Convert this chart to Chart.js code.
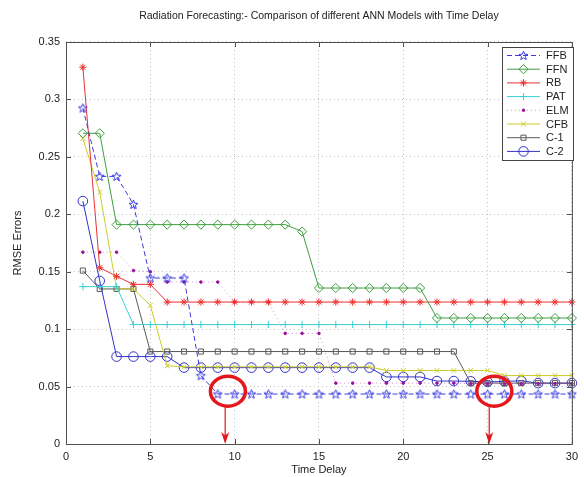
<!DOCTYPE html>
<html>
<head>
<meta charset="utf-8">
<script src="https://cdn.jsdelivr.net/npm/chart.js@4.4.0/dist/chart.umd.min.js"></script>
<style>
html, body { margin: 0; padding: 0; background: #fff; }
canvas { display: block; }
</style>
</head>
<body>
<canvas id="rmse" width="584" height="477"></canvas>
<script>
// time delay steps 1..30
const timeDelay = [1,2,3,4,5,6,7,8,9,10,11,12,13,14,15,16,17,18,19,20,21,22,23,24,25,26,27,28,29,30];

const ffb = [0.2925,0.233,0.233,0.2086,0.1445,0.1445,0.1445,0.0595,0.0435,0.0435,0.0435,0.0435,0.0435,0.0435,0.0435,
             0.0435,0.0435,0.0435,0.0435,0.0435,0.0435,0.0435,0.0435,0.0435,0.0435,0.0435,0.0435,0.0435,0.0435,0.0435];
const ffn = [0.2705,0.2705,0.191,0.191,0.191,0.191,0.191,0.191,0.191,0.191,0.191,0.191,0.191,0.185,0.1358,
             0.1358,0.1358,0.1358,0.1358,0.1358,0.1358,0.1097,0.1097,0.1097,0.1097,0.1097,0.1097,0.1097,0.1097,0.1097];
const rb  = [0.328,0.1535,0.146,0.139,0.139,0.1236,0.1236,0.1236,0.1236,0.1236,0.1236,0.1236,0.1236,0.1236,0.1236,
             0.1236,0.1236,0.1236,0.1236,0.1236,0.1236,0.1236,0.1236,0.1236,0.1236,0.1236,0.1236,0.1236,0.1236,0.1236];
const pat = [0.137,0.137,0.137,0.104,0.104,0.104,0.104,0.104,0.104,0.104,0.104,0.104,0.104,0.104,0.104,
             0.104,0.104,0.104,0.104,0.104,0.104,0.104,0.104,0.104,0.104,0.104,0.104,0.104,0.104,0.104];
const elm = [0.167,0.167,0.167,0.151,0.150,0.141,0.141,0.141,0.141,0.1236,0.1236,0.1236,0.0963,0.0963,0.0963,
             0.053,0.053,0.053,0.053,0.053,0.053,0.053,0.053,0.0525,0.0525,0.0525,0.0525,0.0525,0.0525,0.0525];
const cfb = [0.266,0.2193,0.135,0.135,0.1207,0.0681,0.0672,0.0672,0.0672,0.0672,0.0672,0.0672,0.0672,0.0672,0.0672,
             0.0672,0.0672,0.0672,0.064,0.064,0.064,0.064,0.064,0.064,0.064,0.0596,0.0596,0.0596,0.0596,0.0596];
const c1  = [0.151,0.135,0.135,0.135,0.0805,0.0805,0.0805,0.0805,0.0805,0.0805,0.0805,0.0805,0.0805,0.0805,0.0805,
             0.0805,0.0805,0.0805,0.0805,0.0805,0.0805,0.0805,0.0805,0.053,0.053,0.053,0.053,0.053,0.053,0.053];
const c2  = [0.2115,0.142,0.0761,0.0761,0.0761,0.0761,0.0665,0.0665,0.0665,0.0665,0.0665,0.0665,0.0665,0.0665,0.0665,
             0.0665,0.0665,0.0665,0.0584,0.0584,0.0584,0.0548,0.0548,0.0546,0.054,0.0545,0.055,0.053,0.053,0.053];

const xTicks = [0, 5, 10, 15, 20, 25, 30];
const yTickLabels = ['0', '0.05', '0.1', '0.15', '0.2', '0.25', '0.3', '0.35'];

// highlighted minima: circle centre (x, rmse) and arrow position on the time axis
const markX = [9.6, 25.4];
const markY = [0.046, 0.046];
const arrowX = [9.44, 25.1];

const FONT = '"Liberation Sans", Arial, sans-serif';

// hollow five-point star used for FFB
function pentagram(color) {
  const c = document.createElement('canvas');
  c.width = 11; c.height = 11;
  const g = c.getContext('2d');
  g.strokeStyle = color; g.lineWidth = 1;
  g.beginPath();
  for (let i = 0; i < 10; i++) {
    const r = i % 2 ? 2.0 : 4.7;
    const a = -Math.PI / 2 + i * Math.PI / 5;
    const px = 5.5 + r * Math.cos(a), py = 5.8 + r * Math.sin(a);
    i ? g.lineTo(px, py) : g.moveTo(px, py);
  }
  g.closePath(); g.stroke();
  return c;
}

function series(label, data, color, style, opts) {
  return Object.assign({
    label: label,
    data: data.map((v, i) => ({x: timeDelay[i], y: v})),
    borderColor: color,
    borderWidth: 1,
    pointStyle: style,
    pointRadius: 4,
    pointBorderColor: color,
    pointBackgroundColor: 'rgba(0,0,0,0)',
    pointBorderWidth: 1,
    tension: 0,
    clip: false
  }, opts || {});
}

const datasets = [
  series('FFB', ffb, '#3b3be0', pentagram('#3b3be0'), {borderDash: [5, 3]}),
  series('FFN', ffn, '#3f9f3f', 'rectRot', {pointRadius: 4.6}),
  series('RB',  rb,  '#ee3030', 'star', {pointRadius: 3.6}),
  series('PAT', pat, '#3ccfd6', 'cross', {pointRadius: 3.6}),
  series('ELM', elm, 'rgba(190,70,190,0.6)', 'circle', {borderDash: [1, 3], pointRadius: 1.3,
         pointBorderColor: '#9a109a', pointBackgroundColor: '#9a109a'}),
  series('CFB', cfb, '#cccc2a', 'crossRot', {pointRadius: 3.4}),
  series('C-1', c1,  '#5a5a5a', 'rect', {pointRadius: 3.6}),
  series('C-2', c2,  '#3232c8', 'circle', {pointRadius: 4.8})
];

// box, inner ticks, titles, legend and the red call-outs
const decor = {
  id: 'decor',
  afterDraw(chart) {
    const {ctx, chartArea: a, scales: {x, y}} = chart;
    ctx.save();
    ctx.strokeStyle = '#505050';
    ctx.lineWidth = 1;
    ctx.strokeRect(a.left + 0.5, a.top + 0.5, a.right - a.left, a.bottom - a.top);
    ctx.beginPath();
    xTicks.forEach(v => {
      const px = Math.round(x.getPixelForValue(v)) + 0.5;
      ctx.moveTo(px, a.bottom); ctx.lineTo(px, a.bottom - 5);
      ctx.moveTo(px, a.top); ctx.lineTo(px, a.top + 5);
    });
    yTickLabels.forEach((t, i) => {
      const py = Math.round(y.getPixelForValue(i * 0.05)) + 0.5;
      ctx.moveTo(a.left, py); ctx.lineTo(a.left + 5, py);
      ctx.moveTo(a.right, py); ctx.lineTo(a.right - 5, py);
    });
    ctx.stroke();

    // titles
    ctx.fillStyle = '#222';
    ctx.textAlign = 'center';
    ctx.textBaseline = 'middle';
    const cx = (a.left + a.right) / 2;
    ctx.font = '10.5px ' + FONT;
    ctx.fillText('Radiation Forecasting:- Comparison of different ANN Models with Time Delay', cx, 16);
    ctx.font = '11px ' + FONT;
    ctx.fillText('Time Delay', cx, 470);
    ctx.save();
    ctx.translate(18, (a.top + a.bottom) / 2);
    ctx.rotate(-Math.PI / 2);
    ctx.fillText('RMSE Errors', 0, 0);
    ctx.restore();

    // legend
    const lx = 502, ly = 47, lw = 71, lh = 113;
    ctx.fillStyle = '#fff';
    ctx.fillRect(lx, ly, lw, lh);
    ctx.strokeStyle = '#444';
    ctx.strokeRect(lx + 0.5, ly + 0.5, lw, lh);
    ctx.textAlign = 'left';
    chart.data.datasets.forEach((ds, i) => {
      const ry = ly + 8.5 + i * 13.7;
      ctx.save();
      ctx.strokeStyle = ds.borderColor;
      ctx.lineWidth = 1;
      ctx.setLineDash(ds.borderDash || []);
      ctx.beginPath(); ctx.moveTo(507, ry); ctx.lineTo(540, ry); ctx.stroke();
      ctx.setLineDash([]);
      ctx.strokeStyle = ds.pointBorderColor;
      ctx.fillStyle = ds.pointBackgroundColor;
      ctx.lineWidth = 1;
      Chart.helpers.drawPoint(ctx, {pointStyle: ds.pointStyle, radius: ds.pointRadius, rotation: 0, borderWidth: 1}, 523.5, ry);
      ctx.restore();
      ctx.fillStyle = '#222';
      ctx.font = '11px ' + FONT;
      ctx.fillText(ds.label, 546, ry + 0.5);
    });

    // red circles with arrows down to the time axis
    ctx.strokeStyle = '#e3171c';
    ctx.fillStyle = '#e3171c';
    markX.forEach((mx, i) => {
      const ex = x.getPixelForValue(mx), ey = y.getPixelForValue(markY[i]);
      ctx.lineWidth = 3.5;
      ctx.beginPath(); ctx.ellipse(ex, ey, 17.5, 15, 0, 0, Math.PI * 2); ctx.stroke();
      const ax = x.getPixelForValue(arrowX[i]);
      ctx.lineWidth = 1.2;
      ctx.beginPath(); ctx.moveTo(ax, ey + 15); ctx.lineTo(ax, a.bottom - 8); ctx.stroke();
      ctx.beginPath();
      ctx.moveTo(ax - 4, a.bottom - 12); ctx.lineTo(ax, a.bottom - 8.5); ctx.lineTo(ax + 4, a.bottom - 12);
      ctx.lineTo(ax, a.bottom); ctx.closePath(); ctx.fill();
    });
    ctx.restore();
  }
};

new Chart(document.getElementById('rmse'), {
  type: 'line',
  data: { datasets: datasets },
  options: {
    responsive: false,
    animation: false,
    layout: { padding: { left: 0, right: 5, top: 42, bottom: 0 } },
    plugins: { legend: { display: false }, tooltip: { enabled: false }, title: { display: false } },
    scales: {
      x: {
        type: 'linear', min: 0, max: 30,
        afterFit: s => { s.height = 33; },
        afterBuildTicks: s => { s.ticks = xTicks.map(v => ({value: v})); },
        grid: { color: '#c4c4c4', drawTicks: false },
        border: { display: false, dash: [1, 3] },
        ticks: { padding: 6, color: '#222', font: { family: FONT, size: 11 }, maxRotation: 0 }
      },
      y: {
        type: 'linear', min: 0, max: 0.35,
        afterFit: s => { s.width = 66; },
        afterBuildTicks: s => { s.ticks = yTickLabels.map((t, i) => ({value: i * 0.05})); },
        grid: { color: '#c4c4c4', drawTicks: false },
        border: { display: false, dash: [1, 3] },
        ticks: { padding: 6, color: '#222', font: { family: FONT, size: 11 },
                 callback: (v, i) => yTickLabels[i] }
      }
    }
  },
  plugins: [decor]
});
</script>
</body>
</html>
